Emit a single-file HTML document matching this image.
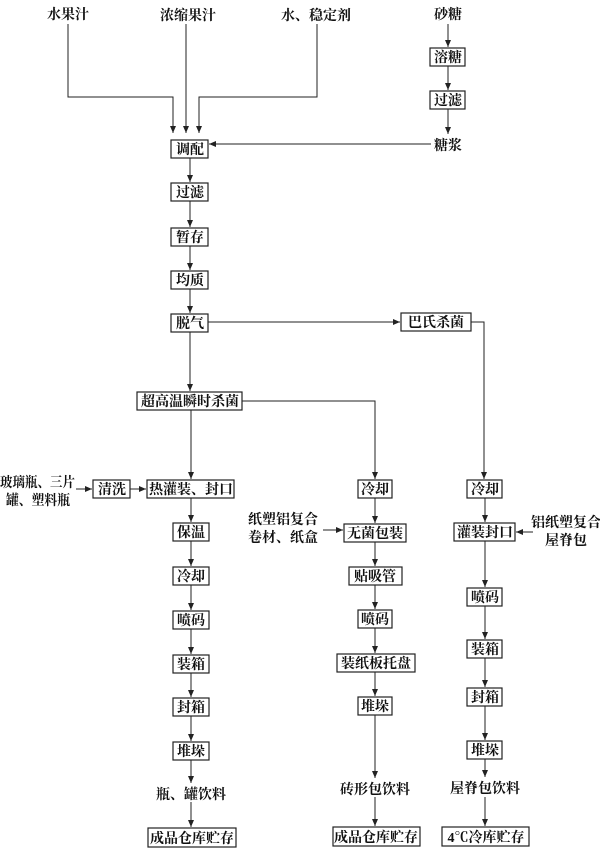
<!DOCTYPE html>
<html><head><meta charset="utf-8"><style>
html,body{margin:0;padding:0;background:#fff;}
svg{display:block;}
text{font-family:"Liberation Serif","Noto Serif CJK SC",serif;font-size:14px;fill:#111;font-weight:bold;}
rect{fill:#fff;stroke:#222;stroke-width:1.2;}
line,polyline{stroke:#222;stroke-width:1;fill:none;}
</style></head><body>
<svg width="600" height="850" viewBox="0 0 600 850" xmlns="http://www.w3.org/2000/svg">
<defs><marker id="a" markerWidth="8" markerHeight="8" refX="7" refY="3" orient="auto" markerUnits="userSpaceOnUse"><path d="M0,0 L7,3 L0,6 z" fill="#222"/></marker></defs>
<g text-anchor="middle">
<text x="68" y="19">水果汁</text>
<text x="188" y="20">浓缩果汁</text>
<text x="316" y="20">水、稳定剂</text>
<text x="448" y="19">砂糖</text>
</g>
<polyline points="68,24 68,97 173,97 173,133" marker-end="url(#a)"/>
<line x1="186" y1="24" x2="186" y2="133" marker-end="url(#a)"/>
<polyline points="317,24 317,97 199,97 199,133" marker-end="url(#a)"/>
<line x1="448" y1="24" x2="448" y2="47" marker-end="url(#a)"/>
<line x1="448" y1="65" x2="448" y2="90" marker-end="url(#a)"/>
<line x1="448" y1="108" x2="448" y2="134" marker-end="url(#a)"/>
<line x1="431" y1="144" x2="209" y2="144" marker-end="url(#a)"/>
<line x1="190" y1="158" x2="190" y2="182" marker-end="url(#a)"/>
<line x1="190" y1="201" x2="190" y2="227" marker-end="url(#a)"/>
<line x1="190" y1="245" x2="190" y2="270" marker-end="url(#a)"/>
<line x1="190" y1="288" x2="190" y2="313" marker-end="url(#a)"/>
<line x1="208" y1="322" x2="400" y2="322" marker-end="url(#a)"/>
<polyline points="471,322 484,322 484,479" marker-end="url(#a)"/>
<line x1="190" y1="332" x2="190" y2="391" marker-end="url(#a)"/>
<polyline points="242,401 375,401 375,479" marker-end="url(#a)"/>
<line x1="191" y1="410" x2="191" y2="479" marker-end="url(#a)"/>
<line x1="76" y1="489" x2="92" y2="489" marker-end="url(#a)"/>
<line x1="130" y1="489" x2="146" y2="489" marker-end="url(#a)"/>
<line x1="191" y1="498" x2="191" y2="522" marker-end="url(#a)"/>
<line x1="191" y1="541" x2="191" y2="566" marker-end="url(#a)"/>
<line x1="191" y1="584" x2="191" y2="610" marker-end="url(#a)"/>
<line x1="191" y1="628" x2="191" y2="654" marker-end="url(#a)"/>
<line x1="191" y1="672" x2="191" y2="697" marker-end="url(#a)"/>
<line x1="191" y1="716" x2="191" y2="741" marker-end="url(#a)"/>
<line x1="191" y1="760" x2="191" y2="783" marker-end="url(#a)"/>
<line x1="191" y1="802" x2="191" y2="827" marker-end="url(#a)"/>
<line x1="375" y1="497" x2="375" y2="523" marker-end="url(#a)"/>
<line x1="323" y1="530" x2="343" y2="530" marker-end="url(#a)"/>
<line x1="375" y1="541" x2="375" y2="566" marker-end="url(#a)"/>
<line x1="375" y1="584" x2="375" y2="609" marker-end="url(#a)"/>
<line x1="375" y1="628" x2="375" y2="653" marker-end="url(#a)"/>
<line x1="375" y1="672" x2="375" y2="696" marker-end="url(#a)"/>
<line x1="375" y1="715" x2="375" y2="778" marker-end="url(#a)"/>
<line x1="375" y1="797" x2="375" y2="826" marker-end="url(#a)"/>
<line x1="485" y1="497" x2="485" y2="522" marker-end="url(#a)"/>
<line x1="533" y1="532" x2="516" y2="532" marker-end="url(#a)"/>
<line x1="485" y1="541" x2="485" y2="587" marker-end="url(#a)"/>
<line x1="485" y1="606" x2="485" y2="639" marker-end="url(#a)"/>
<line x1="485" y1="658" x2="485" y2="687" marker-end="url(#a)"/>
<line x1="485" y1="706" x2="485" y2="740" marker-end="url(#a)"/>
<line x1="485" y1="758" x2="485" y2="777" marker-end="url(#a)"/>
<line x1="485" y1="797" x2="485" y2="826" marker-end="url(#a)"/>
<g>
<rect x="430" y="48" width="35" height="18"/>
<rect x="430" y="91" width="35" height="18"/>
<rect x="171" y="140" width="37" height="18"/>
<rect x="171" y="183" width="37" height="18"/>
<rect x="171" y="228" width="37" height="18"/>
<rect x="171" y="271" width="37" height="18"/>
<rect x="171" y="314" width="37" height="18"/>
<rect x="401" y="313" width="70" height="18"/>
<rect x="137" y="392" width="105" height="18"/>
<rect x="93" y="480" width="37" height="18"/>
<rect x="147" y="480" width="87" height="18"/>
<rect x="173" y="523" width="36" height="18"/>
<rect x="173" y="567" width="36" height="18"/>
<rect x="173" y="611" width="36" height="18"/>
<rect x="173" y="655" width="36" height="18"/>
<rect x="173" y="698" width="36" height="18"/>
<rect x="173" y="742" width="36" height="18"/>
<rect x="148" y="828" width="88" height="19"/>
<rect x="358" y="480" width="34" height="18"/>
<rect x="344" y="524" width="62" height="18"/>
<rect x="349" y="567" width="53" height="18"/>
<rect x="358" y="610" width="34" height="18"/>
<rect x="337" y="654" width="78" height="18"/>
<rect x="358" y="697" width="34" height="18"/>
<rect x="333" y="827" width="87" height="19"/>
<rect x="467" y="480" width="35" height="18"/>
<rect x="454" y="523" width="61" height="18"/>
<rect x="467" y="588" width="35" height="18"/>
<rect x="467" y="640" width="35" height="18"/>
<rect x="467" y="688" width="35" height="18"/>
<rect x="467" y="741" width="35" height="18"/>
<rect x="442" y="827" width="87" height="19"/>
</g>
<text x="0" y="487" textLength="75" lengthAdjust="spacingAndGlyphs">玻璃瓶、三片</text>
<text x="6" y="505" textLength="64" lengthAdjust="spacingAndGlyphs">罐、塑料瓶</text>
<g text-anchor="middle">
<text x="448" y="62">溶糖</text>
<text x="448" y="105">过滤</text>
<text x="448" y="150">糖浆</text>
<text x="190" y="154">调配</text>
<text x="190" y="197">过滤</text>
<text x="190" y="242">暂存</text>
<text x="190" y="285">均质</text>
<text x="190" y="328">脱气</text>
<text x="436" y="327">巴氏杀菌</text>
<text x="190" y="406">超高温瞬时杀菌</text>
<text x="112" y="494">清洗</text>
<text x="191" y="494">热灌装、封口</text>
<text x="191" y="537">保温</text>
<text x="191" y="581">冷却</text>
<text x="191" y="625">喷码</text>
<text x="191" y="669">装箱</text>
<text x="191" y="712">封箱</text>
<text x="191" y="756">堆垛</text>
<text x="191" y="799">瓶、罐饮料</text>
<text x="192" y="843">成品仓库贮存</text>
<text x="375" y="494">冷却</text>
<text x="283" y="524">纸塑铝复合</text>
<text x="283" y="542">卷材、纸盒</text>
<text x="375" y="538">无菌包装</text>
<text x="375" y="581">贴吸管</text>
<text x="375" y="624">喷码</text>
<text x="376" y="668">装纸板托盘</text>
<text x="375" y="711">堆垛</text>
<text x="375" y="794">砖形包饮料</text>
<text x="376" y="842">成品仓库贮存</text>
<text x="485" y="494">冷却</text>
<text x="485" y="537">灌装封口</text>
<text x="566" y="527">铝纸塑复合</text>
<text x="566" y="545">屋脊包</text>
<text x="485" y="602">喷码</text>
<text x="485" y="654">装箱</text>
<text x="485" y="702">封箱</text>
<text x="485" y="755">堆垛</text>
<text x="485" y="793">屋脊包饮料</text>
<text x="486" y="842">4℃冷库贮存</text>
</g>
</svg>
</body></html>
